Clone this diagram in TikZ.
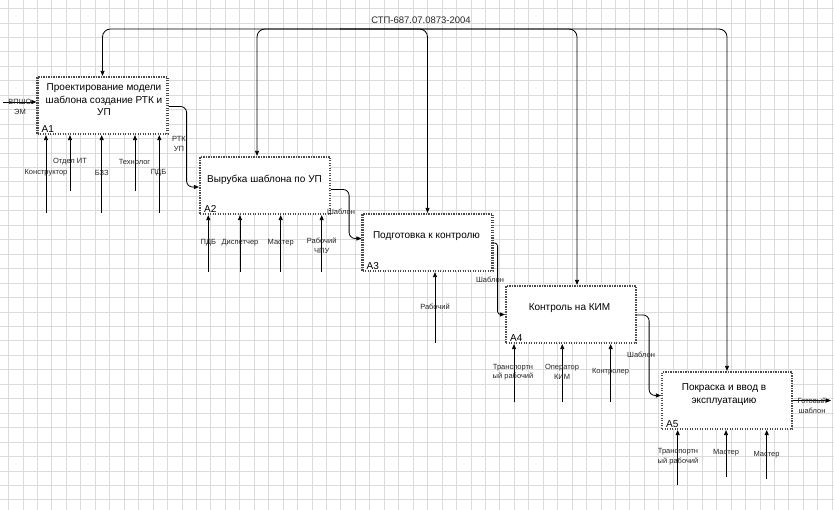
\documentclass[tikz,border=0pt]{standalone}
\usepackage{fontspec}
\setmainfont{Liberation Sans}
\usetikzlibrary{arrows.meta,calc}
\begin{document}
\begin{tikzpicture}[x=1pt,y=-1pt,
  gridline/.style={draw=black!14, line width=0.4pt},
  box/.style={preaction={fill=white, draw=black!28, line width=2.2pt},
    draw=black!70, line width=2.2pt, dash pattern=on 1.1pt off 1.4pt,
    minimum width=130pt, minimum height=57pt, inner sep=0pt},
  boxtext/.style={font=\fontsize{10}{12.5}\selectfont, align=center, inner sep=0pt},
  boxid/.style={font=\fontsize{10}{12}\selectfont, inner sep=0pt},
  lab/.style={font=\fontsize{7.5}{9.5}\selectfont, align=center, inner sep=0pt, text=black!85},
  arr/.style={draw=black, line width=0.8pt, -{Triangle[length=5pt,width=4pt]}},
  ctlline/.style={arr, rounded corners=8pt},
  outline/.style={arr, rounded corners=6pt}]
\useasboundingbox (0,0) rectangle (834,510);
\fill[white] (0,0) rectangle (834,510);
% grid
\foreach \i in {0,...,57} { \draw[gridline] ({8.3+\i*14.45},0) -- ({8.3+\i*14.45},510); }
\foreach \j in {0,...,35} { \draw[gridline] (0,{8.3+\j*14.45}) -- (834,{8.3+\j*14.45}); }

% boxes
\node[box] (A1) at (102.5,105.5) {};
\node[box] (A2) at (265,185.5) {};
\node[box] (A3) at (427.5,242.5) {};
\node[box] (A4) at (571,314.5) {};
\node[box] (A5) at (727,400.5) {};

\node[boxtext] (t1) at (104,100) {Проектирование модели\\шаблона создание РТК и\\УП};
\node[boxtext] (t2) at (264.5,180) {Вырубка шаблона по УП};
\node[boxtext] (t3) at (426.5,236.5) {Подготовка к контролю};
\node[boxtext] (t4) at (569.5,308.5) {Контроль на КИМ};
\node[boxtext] (t5) at (724,394.5) {Покраска и ввод в\\эксплуатацию};

\node[boxid, anchor=south west] (i1) at ($(A1.south west)+(5,-2.5)$) {A1};
\node[boxid, anchor=south west] (i2) at ($(A2.south west)+(5,-2.5)$) {A2};
\node[boxid, anchor=south west] (i3) at ($(A3.south west)+(5,-2.5)$) {A3};
\node[boxid, anchor=south west] (i4) at ($(A4.south west)+(5,-2.5)$) {A4};
\node[boxid, anchor=south west] (i5) at ($(A5.south west)+(5,-2.5)$) {A5};

% control
\coordinate (ctl) at (340,29);
\node[lab, font=\fontsize{9.5}{11}\selectfont] (ctltext) at (421,20) {СТП-687.07.0873-2004};
\draw[ctlline] (ctl) -| (A1.north);
\draw[ctlline] (ctl) -| ($(A2.north)+(-8,0)$);
\draw[ctlline] (ctl) -| (A3.north);
\draw[ctlline] (ctl) -| ($(A4.north)+(6,0)$);
\draw[ctlline] (ctl) -| (A5.north);

% input to A1
\coordinate (in1) at (3,102);
\draw[arr] (in1) -- (in1 -| A1.west);
\node[lab] (lin1) at (20,107) {ВПШО\\ЭМ};

% transitions
\draw[outline] ($(A1.east)+(0,1)$) -- ++(18,0) |- ($(A2.west)+(0,1.5)$);
\node[lab] (l12) at (179,144) {РТК\\УП};
\draw[outline] ($(A2.east)+(0,4)$) -- ++(18,0) |- ($(A3.west)+(0,-4)$);
\node[lab] (l23) at (341,212) {Шаблон};
\draw[arr, rounded corners=3pt] ($(A3.east)+(0,0.5)$) -- ++(4,0) |- (A4.west);
\node[lab] (l34) at (490,280) {Шаблон};
\draw[outline] ($(A4.east)+(0,0.5)$) -- ++(12,0) |- ($(A5.west)+(0,-5)$);
\node[lab] (l45) at (641,355) {Шаблон};
\coordinate (out5) at (831,400.5);
\draw[arr] (A5.east) -- (out5);
\node[lab] (lout) at (812,406) {Готовый\\шаблон};

% mechanisms A1
\coordinate (m11) at (46,213);
\coordinate (m12) at (70,191);
\coordinate (m13) at (101.7,213);
\coordinate (m14) at (135,191);
\coordinate (m15) at (159.3,213);
\foreach \m in {m11,m12,m13,m14,m15} { \draw[arr] (\m) -- (\m |- A1.south); }
\node[lab] (lm11) at (46,173) {Конструктор};
\node[lab] (lm12) at (70,161.7) {Отдел ИТ};
\node[lab] (lm13) at (101.7,173) {БЗЗ};
\node[lab] (lm14) at (134.5,161.7) {Технолог};
\node[lab] (lm15) at (158.5,173) {ПДБ};

% mechanisms A2
\coordinate (m21) at (208.3,272);
\coordinate (m22) at (240,272);
\coordinate (m23) at (280.7,272);
\coordinate (m24) at (321.7,272);
\foreach \m in {m21,m22,m23,m24} { \draw[arr] (\m) -- (\m |- A2.south); }
\node[lab] (lm21) at (208.3,243) {ПДБ};
\node[lab] (lm22) at (240,243) {Диспетчер};
\node[lab] (lm23) at (280.7,243) {Мастер};
\node[lab] (lm24) at (321.7,246) {Рабочий\\ЧПУ};

% mechanism A3
\coordinate (m31) at (435,343);
\draw[arr] (m31) -- (m31 |- A3.south);
\node[lab] (lm31) at (435,307) {Рабочий};

% mechanisms A4
\coordinate (m41) at (514,402);
\coordinate (m42) at (562.3,402);
\coordinate (m43) at (610.7,402);
\foreach \m in {m41,m42,m43} { \draw[arr] (\m) -- (\m |- A4.south); }
\node[lab] (lm41) at (513,372) {Транспортн\\ый рабочий};
\node[lab] (lm42) at (562,372) {Оператор\\КИМ};
\node[lab] (lm43) at (610.5,371.7) {Контролер};

% mechanisms A5
\coordinate (m51) at (677.7,485);
\coordinate (m52) at (726,477);
\coordinate (m53) at (766.7,479);
\foreach \m in {m51,m52,m53} { \draw[arr] (\m) -- (\m |- A5.south); }
\node[lab] (lm51) at (678,456.5) {Транспортн\\ый рабочий};
\node[lab] (lm52) at (726,452.3) {Мастер};
\node[lab] (lm53) at (766.5,454.3) {Мастер};
\end{tikzpicture}
\end{document}
